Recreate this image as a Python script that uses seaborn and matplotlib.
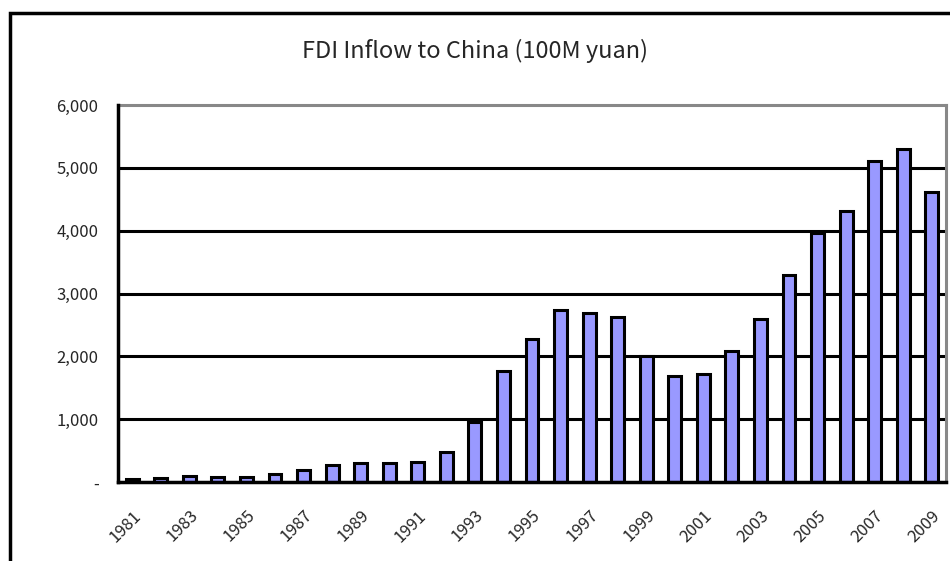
import pandas as pd
import seaborn as sns
import matplotlib.pyplot as plt
from matplotlib.patches import Rectangle

# FDI inflow by year (100M yuan)
years = list(range(1981, 2010))
fdi = [40, 65, 90, 80, 80, 135, 185, 265, 295, 295, 320, 480, 960,
       1770, 2280, 2730, 2690, 2620, 2010, 1690, 1720, 2090, 2600,
       3290, 3970, 4320, 5110, 5300, 4610]
y_ticks = [0, 1000, 2000, 3000, 4000, 5000, 6000]
y_labels = ["-", "1,000", "2,000", "3,000", "4,000", "5,000", "6,000"]

df = pd.DataFrame({"year": [str(y) for y in years], "fdi": fdi})

sns.set_style("white")
plt.rcParams["font.family"] = ["Noto Sans CJK JP", "DejaVu Sans"]

fig = plt.figure(figsize=(9.5, 5.61), dpi=100)
ax = fig.add_axes([0.1242, 0.1408, 0.8716, 0.672])

sns.barplot(data=df, x="year", y="fdi", color="#9999FF", saturation=1,
            width=0.45, edgecolor="black", linewidth=2.2, ax=ax, zorder=3)

# horizontal gridlines
for v in y_ticks[1:-1]:
    ax.axhline(v, color="black", lw=2.2, zorder=1)

ax.set_xlim(-0.5, len(years) - 0.5)
ax.set_ylim(0, 6000)
ax.set_yticks(y_ticks)
ax.set_yticklabels(y_labels, fontsize=12)
ax.tick_params(axis="y", length=0, pad=14)

ax.set_xticks(range(0, len(years), 2))
ax.set_xticklabels([str(y) for y in years[::2]], rotation=45, fontsize=12,
                   ha="right", va="top", rotation_mode="anchor")
ax.set_xticks([i + 0.5 for i in range(len(years))], minor=True)
ax.tick_params(axis="x", which="major", length=0, pad=18)
ax.tick_params(axis="x", which="minor", direction="in", length=5,
               width=2.2, color="black")
ax.set_xlabel("")
ax.set_ylabel("")

for s in ["left", "bottom"]:
    ax.spines[s].set_color("black")
    ax.spines[s].set_linewidth(2.5)
    ax.spines[s].set_zorder(4)
for s in ["top", "right"]:
    ax.spines[s].set_color("#888888")
    ax.spines[s].set_linewidth(2.2)

fig.text(0.5, 0.91, "FDI Inflow to China (100M yuan)", ha="center",
         va="center", fontsize=17)

# outer chart frame (cut off at right and bottom)
fig.patches.append(Rectangle((10 / 950, -0.1), 1.2, 1 - 13 / 561 + 0.1,
                             transform=fig.transFigure, fill=False,
                             edgecolor="black", lw=2.5))

plt.savefig("out.png", dpi=100)
